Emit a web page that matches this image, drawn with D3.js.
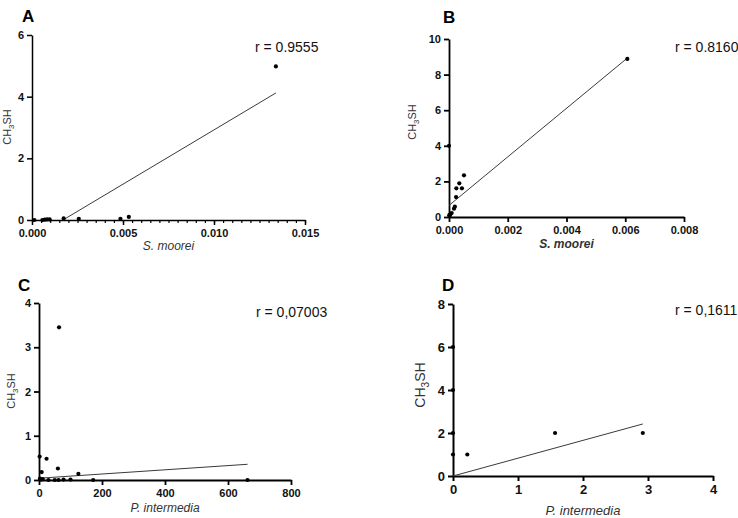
<!DOCTYPE html>
<html><head><meta charset="utf-8">
<script src="https://cdn.jsdelivr.net/npm/d3@7"></script>
<style>body{margin:0;background:#fff}svg{display:block}text{font-family:"Liberation Sans",Arial,sans-serif}</style>
</head><body>
<svg id="c" width="738" height="518"></svg>
<script>
// Panel A
const aX = [0.00013,0.00057,0.00070,0.00083,0.00097,0.00174,0.00257,0.00486,0.00532,0.0134];
const aY = [0,0,0.01,0.02,0.02,0.05,0.04,0.04,0.10,4.98];
const aLineX = [0.0017,0.0134], aLineY = [0,4.12];
const aXTicks = [0,0.005,0.010,0.015], aYTicks = [0,2,4,6];
// Panel B
const bX = [0,0.00051,0.00035,0.00025,0.00044,0.00024,0.00017,0.00020,0.00009,0.00004,0.00002,0.00001,0.00607];
const bY = [4.0,2.34,1.89,1.61,1.61,1.12,0.47,0.58,0.22,0.13,0.05,0.10,8.88];
const bLineX = [0,0.0061], bLineY = [0.65,8.97];
const bXTicks = [0,0.002,0.004,0.006,0.008], bYTicks = [0,2,4,6,8,10];
// Panel C
const cX = [63.6,2,24,60,8.5,125,3,7,12,30,50,62,78,100,172,662];
const cY = [3.45,0.53,0.48,0.26,0.18,0.14,0.03,0.01,0.02,0,0,0,0.01,0.01,0,0];
const cLineX = [0,662], cLineY = [0.04,0.355];
const cXTicks = [0,200,400,600,800], cYTicks = [0,1,2,3,4];
// Panel D
const dX = [0,0,0,0,0.22,1.57,2.92];
const dY = [1,2,4,6,1,2,2];
const dLineX = [0,2.92], dLineY = [0,2.42];
const dXTicks = [0,1,2,3,4], dYTicks = [0,2,4,6,8];

const svg = d3.select("#c");

function panel(o){
  const g = svg.append("g");
  const x = d3.scaleLinear().domain(o.xd).range([o.left,o.right]);
  const y = d3.scaleLinear().domain(o.yd).range([o.bottom,o.top]);
  const xa = d3.axisBottom(x).tickValues(o.xt).tickSize(5).tickSizeOuter(0).tickPadding(4).tickFormat(o.xf);
  const ya = d3.axisLeft(y).tickValues(o.yt).tickSize(5).tickSizeOuter(0).tickPadding(3).tickFormat(o.yf);
  if(o.minor){
    const mx = d3.axisBottom(x).tickValues(o.minor).tickSize(3).tickSizeOuter(0).tickFormat("");
    const gm = g.append("g").attr("transform",`translate(0,${o.bottom})`).call(mx);
    gm.select(".domain").remove();
    gm.selectAll("line").attr("stroke","#000").attr("stroke-width",1.2);
  }
  const gx = g.append("g").attr("transform",`translate(0,${o.bottom})`).call(xa);
  const gy = g.append("g").attr("transform",`translate(${o.left},0)`).call(ya);
  [gx,gy].forEach(a=>{
    a.select(".domain").attr("stroke","#000").attr("stroke-width",o.aw);
    a.selectAll(".tick line").attr("stroke","#000").attr("stroke-width",o.aw);
    a.selectAll(".tick text").attr("font-size",o.tfs).attr("font-weight","bold").attr("fill","#111")
      .attr("font-family","'Liberation Sans',Arial,sans-serif");
  });
  g.append("line").attr("x1",x(o.lx[0])).attr("x2",x(o.lx[1])).attr("y1",y(o.ly[0])).attr("y2",y(o.ly[1]))
    .attr("stroke","#3a3a3a").attr("stroke-width",1);
  g.selectAll("circle.p").data(o.px.map((v,i)=>[v,o.py[i]])).enter().append("circle")
    .attr("cx",d=>x(d[0])).attr("cy",d=>y(d[1])).attr("r",2.1).attr("fill","#000");
  g.append("text").attr("x",o.tx).attr("y",o.ty).attr("font-size",17).attr("font-weight","bold").text(o.title);
  g.append("text").attr("x",o.rx).attr("y",o.ry).attr("font-size",14).attr("fill","#111").text(o.r);
  g.append("text").attr("x",(o.left+o.right)/2).attr("y",o.xly).attr("text-anchor","middle")
    .attr("font-size",o.xlfs).attr("font-style","italic").attr("font-weight",o.xlw||"normal").attr("fill","#333").text(o.xl);
  const yl = g.append("text").attr("transform",`translate(${o.ylx},${o.yly}) rotate(-90)`).attr("text-anchor","middle")
    .attr("font-size",o.ylfs).attr("fill","#333");
  yl.append("tspan").text("CH");
  yl.append("tspan").attr("font-size",o.ylfs*0.72).attr("dy",o.ylfs*0.3).text("3");
  yl.append("tspan").attr("dy",-o.ylfs*0.3).text("SH");
}

const f3 = d3.format(".3f");
panel({xd:[0,0.015],yd:[0,6],left:32,right:305,bottom:220,top:35,xt:aXTicks,yt:aYTicks,
  minor:d3.range(0,31).map(i=>i*0.0005),
  xf:f3,yf:d3.format("d"),aw:1.5,tfs:11,lx:aLineX,ly:aLineY,px:aX,py:aY,
  title:"A",tx:22,ty:22,r:"r = 0.9555",rx:255,ry:52,xl:"S. moorei",xly:250,xlfs:12,ylx:11,yly:127,ylfs:11});
panel({xd:[0,0.008],yd:[0,10],left:449,right:684,bottom:217,top:39,xt:bXTicks,yt:bYTicks,
  xf:f3,yf:d3.format("d"),aw:1.8,tfs:11,lx:bLineX,ly:bLineY,px:bX,py:bY,
  title:"B",tx:443,ty:23,r:"r = 0.8160",rx:675,ry:52,xl:"S. moorei",xlw:"bold",xly:248,xlfs:12,ylx:416,yly:122,ylfs:11});
panel({xd:[0,800],yd:[0,4],left:39,right:291,bottom:480,top:303,xt:cXTicks,yt:cYTicks,
  xf:d3.format("d"),yf:d3.format("d"),aw:1.8,tfs:11,lx:cLineX,ly:cLineY,px:cX,py:cY,
  title:"C",tx:18,ty:291,r:"r = 0,07003",rx:256,ry:317,xl:"P. intermedia",xly:512,xlfs:12,ylx:15,yly:391,ylfs:11});
panel({xd:[0,4],yd:[0,8],left:453,right:713,bottom:476,top:304,xt:dXTicks,yt:dYTicks,
  xf:d3.format("d"),yf:d3.format("d"),aw:2,tfs:13,lx:dLineX,ly:dLineY,px:dX,py:dY,
  title:"D",tx:442,ty:291,r:"r = 0,1611",rx:675,ry:315,xl:"P. intermedia",xly:515,xlfs:13,ylx:425,yly:385,ylfs:14});
</script>
</body></html>
